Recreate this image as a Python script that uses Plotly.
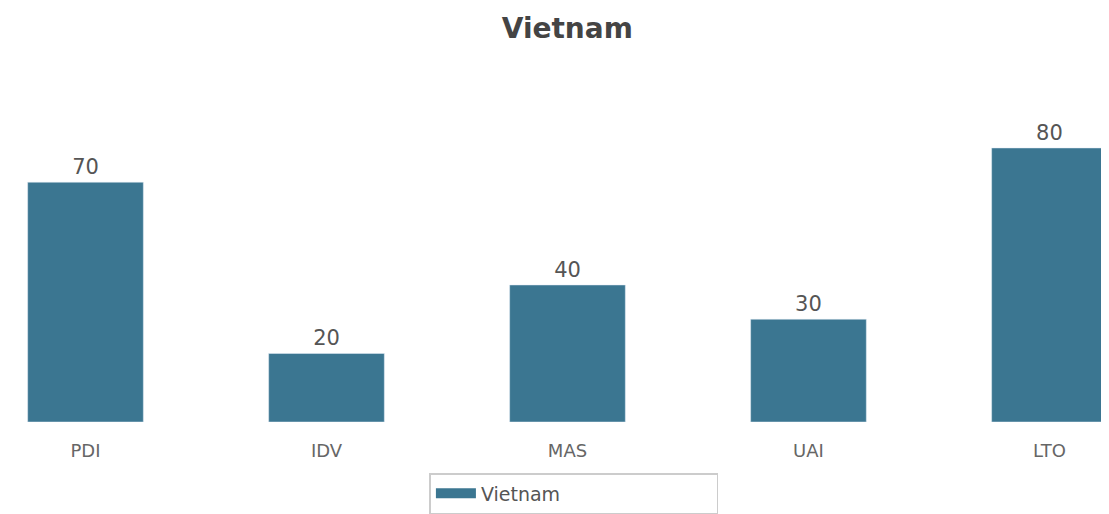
import plotly.graph_objects as go

categories = ["PDI", "IDV", "MAS", "UAI", "LTO"]
values = [70, 20, 40, 30, 80]
series_name = "Vietnam"
bar_color = "#3b7691"

fig = go.Figure()
fig.add_trace(go.Bar(
    x=categories, y=values, name=series_name,
    marker=dict(color=bar_color),
    width=0.48, showlegend=False,
    text=[str(v) for v in values], textposition="outside",
    textfont=dict(family="DejaVu Sans", size=21, color="#555555"),
    cliponaxis=False,
))
# legend entry with a wide rectangular swatch
fig.add_trace(go.Scatter(
    x=[None], y=[None], mode="lines", name=series_name,
    line=dict(color=bar_color, width=15), showlegend=True,
))
fig.update_layout(
    width=1101, height=506,
    paper_bgcolor="white", plot_bgcolor="white",
    margin=dict(l=0, r=0, t=92, b=87),
    title=dict(text="<b>Vietnam</b>", x=0.508, xanchor="center", y=0.96, yanchor="middle",
               font=dict(family="DejaVu Sans", size=28, color="#444444")),
    xaxis=dict(range=[-0.3216, 4.247], showgrid=False, showline=False, zeroline=False,
               ticks="outside", ticklen=12, tickcolor="rgba(0,0,0,0)",
               tickfont=dict(family="DejaVu Sans", size=18, color="#666666")),
    yaxis=dict(range=[0, 94.0], visible=False, showgrid=False, zeroline=False),
    showlegend=True,
    legend=dict(orientation="h", x=0.514, xanchor="center", y=-0.16, yanchor="top",
                bordercolor="#cccccc", borderwidth=1.5,
                font=dict(family="DejaVu Sans", size=19, color="#555555"),
                entrywidth=231, itemwidth=40),
    bargap=0.5,
)
fig.write_html("out.html")
